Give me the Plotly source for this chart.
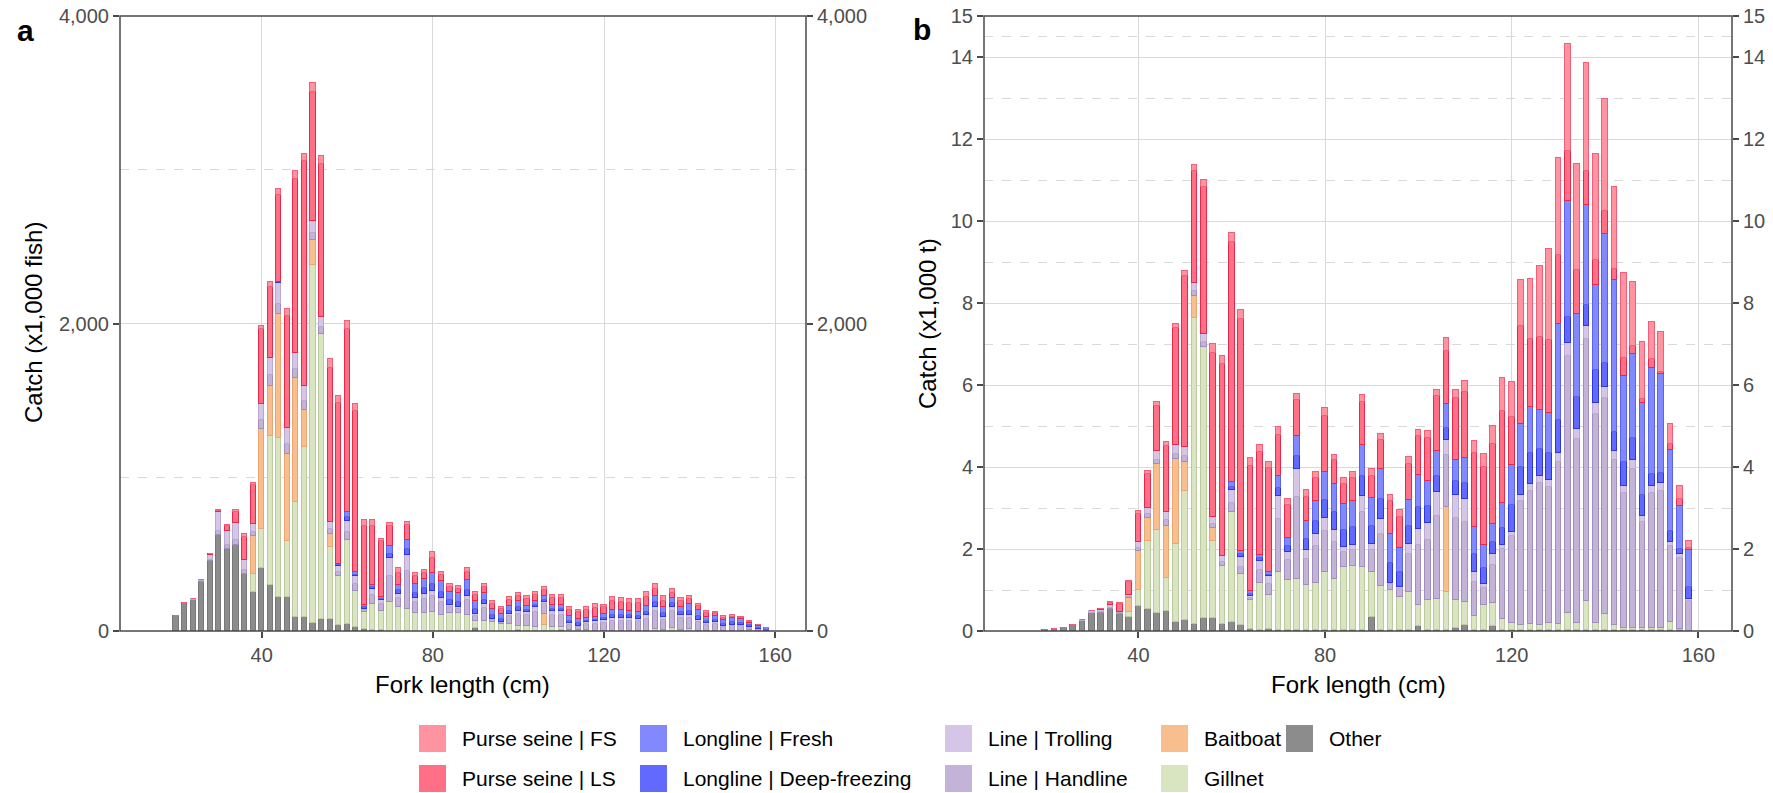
import plotly.graph_objects as go

# ---------------- data ----------------
bins = list(range(20, 160, 2))  # fork length class (cm)

series = ["Other", "Gillnet", "Baitboat", "Line | Handline", "Line | Trolling",
          "Longline | Deep-freezing", "Longline | Fresh", "Purse seine | LS", "Purse seine | FS"]

# Panel a: catch in thousands of fish
a_other = [100,183,200,320,457,623,536,560,368,253,
           409,298,219,219,91,91,55,79,75,36,
           43,26,10,5,4,3,3,3,3,3,
           3,3,3,3,3,19,2,2,2,2,
           4,2,2,2,3,4,1,1,3,1,
           1,1,1,1,1,1,1,1,1,1,
           1,1,1,1,1,1,1,1,1,0]
a_gill = [0,0,0,0,0,0,0,0,0,120,
          253,972,1034,366,750,1107,2326,1852,474,320,
          548,233,115,168,123,183,152,140,111,111,
          123,103,115,111,103,46,60,55,43,43,
          31,31,26,36,24,24,5,3,3,2,
          2,2,2,2,2,2,10,3,17,3,
          9,2,1,1,1,1,1,4,1,0]
a_bait = [0,0,0,0,0,0,0,0,0,243,
          652,325,811,565,806,240,159,0,84,0,
          0,0,0,0,0,0,0,0,0,0,
          0,0,0,0,0,0,0,0,0,0,
          0,0,0,75,0,0,0,0,0,0,
          0,0,0,0,0,0,0,0,0,0,
          0,0,0,0,0,0,0,0,0,0]
a_hand = [0,0,0,4,8,30,25,34,30,30,
          60,70,65,65,60,56,50,45,30,30,
          55,45,14,60,50,170,60,250,75,95,
          100,85,35,30,95,33,85,15,10,50,
          75,70,95,60,80,78,35,25,40,45,
          50,65,65,65,60,78,117,70,112,78,
          77,53,38,44,22,28,30,17,8,2]
a_troll = [0,0,7,8,28,120,90,110,66,47,
           101,110,135,103,99,100,75,68,47,37,
           70,51,5,43,27,116,24,99,26,30,
           32,23,13,11,25,10,26,4,2,15,
           21,19,30,17,23,22,8,6,10,15,
           16,18,18,18,17,20,30,18,28,20,
           19,13,10,11,6,9,7,5,3,0]
a_df = [0,0,0,0,0,0,0,0,0,0,
        0,0,5,0,0,0,0,0,0,5,
        25,12,10,10,7,30,25,40,35,38,
        45,42,35,35,40,33,30,25,22,22,
        25,17,17,14,14,16,19,16,12,10,
        17,19,21,17,17,23,28,24,22,21,
        27,27,17,15,16,17,15,10,8,7]
a_fresh = [0,0,0,0,0,0,0,0,0,0,
           0,0,0,0,0,0,0,0,0,5,
           30,17,14,14,10,49,35,63,54,58,
           73,66,54,56,63,51,47,40,33,33,
           40,26,26,22,22,25,29,25,17,16,
           27,29,31,27,27,36,44,37,35,34,
           41,41,27,24,25,26,22,16,12,9]
a_ls = [0,0,0,0,5,8,30,70,150,255,
        490,464,565,734,1135,1463,842,993,1000,1047,
        1195,1046,517,385,363,133,80,94,55,45,
        100,40,30,30,55,45,35,35,28,36,
        31,43,41,42,48,46,42,45,52,60,
        40,58,50,52,55,60,45,45,35,35,
        36,25,26,18,16,12,10,6,3,0]
a_fs = [0,0,0,0,3,3,10,14,18,17,
        19,29,41,43,48,48,60,53,58,48,
        53,48,36,37,17,19,28,19,19,20,
        39,19,19,18,28,18,18,18,18,18,
        18,18,18,18,18,18,18,18,18,24,
        14,30,27,28,30,32,32,27,26,20,
        20,14,13,12,10,10,8,5,2,0]

# Panel b: catch in thousands of tonnes
b_other = [0.02,0.04,0.08,0.14,0.25,0.44,0.44,0.53,0.42,0.34,
           0.61,0.53,0.44,0.49,0.23,0.26,0.18,0.32,0.32,0.17,
           0.22,0.15,0.05,0.03,0.05,0.03,0.03,0.03,0.03,0.03,
           0.02,0.02,0.02,0.02,0.02,0.34,0.02,0.02,0.02,0.02,
           0.11,0.02,0.02,0.02,0.07,0.15,0.02,0.02,0.13,0.02,
           0.02,0.02,0.02,0.02,0.02,0.02,0.02,0.02,0.02,0.02,
           0.02,0.02,0.02,0.02,0.02,0.02,0.02,0.02,0.02,0.0]
b_gill = [0,0,0,0,0,0,0,0,0,0.13,
          0.38,1.66,2.03,0.81,1.89,3.16,7.46,6.6,1.87,1.41,
          2.68,1.23,0.7,1.15,0.84,1.40,1.21,1.24,1.09,1.14,
          1.41,1.26,1.53,1.57,1.53,1.11,1.07,0.98,0.82,0.94,
          0.52,0.73,0.75,0.92,0.69,0.55,0.34,0.61,0.56,0.27,
          0.17,0.13,0.14,0.12,0.17,0.15,0.41,0.17,0.70,0.17,
          0.39,0.13,0.05,0.05,0.05,0.05,0.05,0.2,0.03,0.0]
b_bait = [0,0,0,0,0,0,0,0,0,0.34,
          0.96,0.56,1.6,1.27,2.07,0.7,0.52,0,0.33,0,
          0,0,0,0,0,0,0,0,0,0,
          0,0,0,0,0,0,0,0,0,0,
          0,0,0,2.08,0,0,0,0,0,0,
          0,0,0,0,0,0,0,0,0,0,
          0,0,0,0,0,0,0,0,0,0]
b_hand = [0,0,0,0,0,0.01,0.02,0.02,0.02,0.02,
          0.08,0.1,0.11,0.13,0.13,0.15,0.14,0.13,0.1,0.1,
          0.23,0.18,0.06,0.3,0.26,1.3,0.5,2.0,0.63,0.9,
          1.0,0.9,0.38,0.38,1.35,0.52,1.28,0.14,0.18,0.91,
          1.46,1.47,2.04,1.28,2.0,1.97,0.84,0.41,0.93,1.71,
          2.12,3.01,3.25,3.47,3.33,3.96,6.27,4.5,6.39,5.11,
          5.27,4.02,3.29,3.89,2.6,3.29,3.35,1.86,1.74,0.73]
b_troll = [0,0,0,0,0.01,0.04,0.06,0.08,0.03,0.04,
           0.13,0.14,0.2,0.2,0.21,0.23,0.2,0.19,0.15,0.15,
           0.3,0.25,0.04,0.23,0.18,0.56,0.19,0.69,0.22,0.29,
           0.32,0.29,0.11,0.12,0.39,0.15,0.36,0.04,0.05,0.26,
           0.41,0.42,0.58,0.36,0.56,0.55,0.24,0.11,0.26,0.09,
           0.11,0.16,0.17,0.18,0.17,0.21,0.33,0.24,0.34,0.27,
           0.28,0.21,0.17,0.2,0.14,0.17,0.18,0.1,0.09,0.04]
b_df = [0,0,0,0,0,0,0,0,0,0,
        0,0,0.01,0,0,0,0,0,0,0.01,
        0.09,0.06,0.05,0.06,0.04,0.2,0.14,0.32,0.28,0.33,
        0.45,0.44,0.42,0.44,0.5,0.45,0.49,0.47,0.38,0.43,
        0.52,0.4,0.4,0.3,0.34,0.4,0.44,0.38,0.3,0.42,
        0.65,0.69,0.76,0.64,0.65,0.8,0.64,0.78,0.5,0.8,
        0.58,0.48,0.6,0.55,0.5,0.3,0.25,0.25,0.12,0.3]
b_fresh = [0,0,0,0,0,0,0,0,0,0,
           0,0,0,0,0,0,0,0,0,0,
           0.12,0.08,0.08,0.09,0.06,0.3,0.2,0.48,0.43,0.49,
           0.68,0.67,0.64,0.65,0.74,0.67,0.73,0.71,0.58,0.64,
           0.78,0.61,0.61,0.58,0.52,0.6,0.66,0.57,0.44,0.62,
           0.98,1.04,1.13,0.96,0.98,2.35,2.81,2.02,2.43,2.08,
           3.15,3.7,2.09,2.05,2.24,2.58,2.42,1.99,1.06,0.9]
b_ls = [0,0,0,0,0,0,0.01,0.06,0.18,0.32,
        0.70,0.84,1.1,1.62,2.85,4.16,2.72,3.6,4.02,4.67,
        5.85,5.66,3.05,2.5,2.55,1.0,0.8,0.87,0.6,0.55,
        1.37,0.58,0.48,0.55,1.06,0.55,0.71,0.8,0.75,0.88,
        0.95,1.06,1.32,1.3,1.5,1.6,1.8,1.9,1.95,2.23,
        1.18,2.38,1.65,1.78,1.78,1.68,1.23,1.08,0.84,0.6,
        0.55,0.26,0.43,0.19,0.1,0.22,0.05,0.14,0.16,0.05]
b_fs = [0,0,0,0,0,0,0,0.02,0.03,0.03,
        0.07,0.07,0.09,0.1,0.12,0.13,0.15,0.17,0.2,0.2,
        0.22,0.22,0.18,0.18,0.14,0.18,0.14,0.16,0.17,0.15,
        0.2,0.14,0.15,0.15,0.17,0.15,0.15,0.16,0.16,0.16,
        0.16,0.16,0.16,0.3,0.19,0.28,0.29,0.31,0.42,0.82,
        0.84,1.12,1.47,1.73,2.21,2.37,2.6,2.58,2.63,2.58,
        2.73,2.02,2.08,1.57,1.39,0.91,0.98,0.5,0.32,0.17]

a_values = [a_other, a_gill, a_bait, a_hand, a_troll, a_df, a_fresh, a_ls, a_fs]
b_values = [b_other, b_gill, b_bait, b_hand, b_troll, b_df, b_fresh, b_ls, b_fs]

a_yticks = [0, 2000, 4000]
a_yticklabels = ["0", "2,000", "4,000"]
a_yminor = [1000, 3000]
b_yticks = [0, 2, 4, 6, 8, 10, 12, 14, 15]
b_yminor = [1, 3, 5, 7, 9, 11, 13, 14.5]
xticks = [40, 80, 120, 160]

# ---------------- styles ----------------
fills = {
    "Other": "#8C8C8C", "Gillnet": "#D8E5C0", "Baitboat": "#F8BE8E",
    "Line | Handline": "#C3B3D9", "Line | Trolling": "#D5C6E8",
    "Longline | Deep-freezing": "#6169FF", "Longline | Fresh": "#8289FF",
    "Purse seine | LS": "#FF6F86", "Purse seine | FS": "#FF93A0",
}
edges = {
    "Other": "#777777", "Gillnet": "#BCCB9F", "Baitboat": "#E9A673",
    "Line | Handline": "#A08EBD", "Line | Trolling": "#B9A8D2",
    "Longline | Deep-freezing": "#2E37D9", "Longline | Fresh": "#5A62EE",
    "Purse seine | LS": "#E3294C", "Purse seine | FS": "#F0607A",
}

W, H = 1773, 793
def px(x):
    return x / W
def py(y):
    return 1 - y / H

FONT = "Liberation Sans, Arial, sans-serif"
TICKC = "#4D4D4D"
GRID = "#D9D9D9"
AXC = "#4A4A4A"

fig = go.Figure()
for name, av, bv in zip(series, a_values, b_values):
    fig.add_trace(go.Bar(x=bins, y=av, name=name, xaxis="x", yaxis="y", width=1.2,
                         marker=dict(color=fills[name], line=dict(color=edges[name], width=1)),
                         showlegend=False))
    fig.add_trace(go.Bar(x=bins, y=bv, name=name, xaxis="x2", yaxis="y2", width=1.2,
                         marker=dict(color=fills[name], line=dict(color=edges[name], width=1)),
                         showlegend=False))

# transparent companions so that the secondary (right) axes are drawn
fig.add_trace(go.Scatter(x=bins, y=a_other, xaxis="x", yaxis="y3", mode="markers",
                         marker=dict(opacity=0), hoverinfo="skip", showlegend=False))
fig.add_trace(go.Scatter(x=bins, y=b_other, xaxis="x2", yaxis="y4", mode="markers",
                         marker=dict(opacity=0), hoverinfo="skip", showlegend=False))

xdom_a = [px(120), px(806)]
xdom_b = [px(984), px(1732)]
ydom = [py(631), py(16)]
xr = [6.9, 167.2]

tickfont = dict(family=FONT, size=20, color=TICKC)
common_x = dict(range=xr, tickvals=xticks, ticks="outside", ticklen=6, tickwidth=1.5,
                tickcolor=AXC, showline=False,
                showgrid=True, gridcolor=GRID, gridwidth=1.4, zeroline=False,
                automargin=False, tickfont=tickfont)
common_y = dict(ticks="outside", ticklen=6, tickwidth=1.5, tickcolor=AXC, showline=False,
                showgrid=True, gridcolor=GRID, gridwidth=1.4,
                zeroline=False, automargin=False, tickfont=tickfont)
right_y = dict(side="right", ticks="outside", ticklen=6, tickwidth=1.5, tickcolor=AXC,
               showline=False, showgrid=False, zeroline=False,
               automargin=False, tickfont=tickfont)

fig.update_layout(
    width=W, height=H, margin=dict(l=0, r=0, t=0, b=0, autoexpand=False),
    paper_bgcolor="white", plot_bgcolor="white",
    barmode="stack", bargap=0, showlegend=False,
    xaxis=dict(domain=xdom_a, anchor="y", **common_x),
    xaxis2=dict(domain=xdom_b, anchor="y2", **common_x),
    yaxis=dict(domain=ydom, anchor="x", range=[0, 4000], tickvals=a_yticks,
               ticktext=a_yticklabels,
               minor=dict(tickvals=a_yminor, showgrid=True, griddash="dash",
                          gridcolor=GRID, gridwidth=1.4, ticks=""),
               **common_y),
    yaxis2=dict(domain=ydom, anchor="x2", range=[0, 15], tickvals=b_yticks,
                ticktext=[str(v) for v in b_yticks],
                minor=dict(tickvals=b_yminor, showgrid=True, griddash="dash",
                           gridcolor=GRID, gridwidth=1.4, ticks=""),
                **common_y),
    yaxis3=dict(overlaying="y", anchor="x", range=[0, 4000],
                tickvals=a_yticks, ticktext=a_yticklabels, **right_y),
    yaxis4=dict(overlaying="y2", anchor="x2", range=[0, 15],
                tickvals=b_yticks, ticktext=[str(v) for v in b_yticks], **right_y),
)

shapes = []
# panel frames
for xd, yd in (("x domain", "y domain"), ("x2 domain", "y2 domain")):
    shapes.append(dict(type="rect", xref=xd, yref=yd, x0=0, x1=1, y0=0, y1=1,
                       line=dict(color=AXC, width=1.5), fillcolor="rgba(0,0,0,0)",
                       layer="above"))

ann = []
def note(text, x, y, size, **kw):
    d = dict(text=text, x=px(x), y=py(y), xref="paper", yref="paper", showarrow=False,
             xanchor="center", yanchor="middle",
             font=dict(family=FONT, size=size, color="black"))
    d.update(kw)
    ann.append(d)

# panel tags
note("<b>a</b>", 25, 31, 30)
note("<b>b</b>", 922, 29, 30)
# axis titles
note("Catch (x1,000 fish)", 34, 323, 24, textangle=-90)
note("Catch (x1,000 t)", 928, 323, 24, textangle=-90)
note("Fork length (cm)", 463, 684, 24)
note("Fork length (cm)", 1358, 684, 24)

# manual legend (two rows, five columns)
legend_layout = [
    ("Purse seine | FS", 0, 0), ("Purse seine | LS", 0, 1),
    ("Longline | Fresh", 1, 0), ("Longline | Deep-freezing", 1, 1),
    ("Line | Trolling", 2, 0), ("Line | Handline", 2, 1),
    ("Baitboat", 3, 0), ("Gillnet", 3, 1),
    ("Other", 4, 0),
]
col_x = [419, 640, 945, 1161, 1286]
row_y = [738.5, 778.5]
sw = 27
for name, c, r in legend_layout:
    x0 = col_x[c]
    yc = row_y[r]
    shapes.append(dict(type="rect", xref="paper", yref="paper",
                       x0=px(x0), x1=px(x0 + sw), y0=py(yc + sw / 2), y1=py(yc - sw / 2),
                       fillcolor=fills[name], line=dict(width=0)))
    note(name, x0 + sw + 14, yc, 21, xanchor="left")

fig.update_layout(annotations=ann, shapes=shapes)
fig.write_html("out.html")
